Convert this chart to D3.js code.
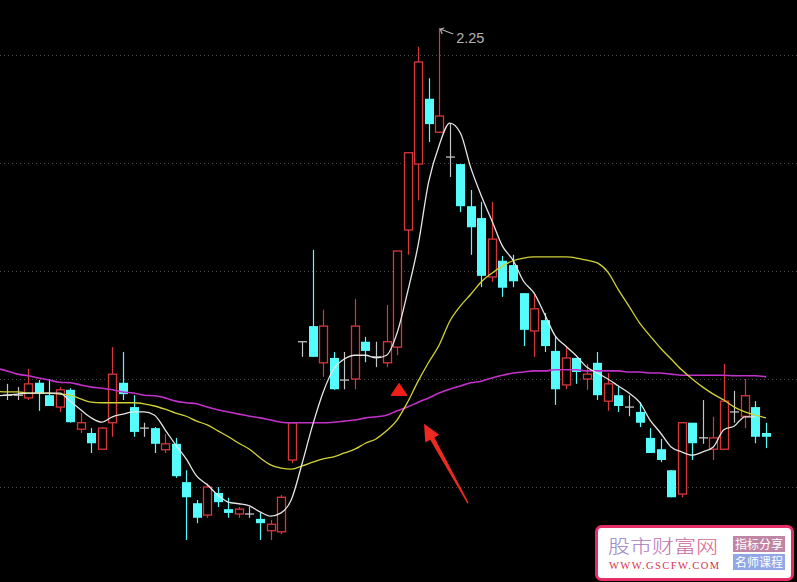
<!DOCTYPE html>
<html><head><meta charset="utf-8">
<script src="https://cdn.jsdelivr.net/npm/d3@7"></script>
<style>html,body{margin:0;padding:0;background:#000;overflow:hidden}</style>
</head><body><svg id="c" width="797" height="582"></svg>
<script>
const opens=[1.570,1.570,1.565,1.593,1.570,1.548,1.580,1.507,1.500,1.470,1.519,1.593,1.548,1.509,1.509,1.469,1.480,1.409,1.370,1.348,1.389,1.359,1.350,1.350,1.341,1.319,1.317,1.450,1.669,1.698,1.630,1.639,1.598,1.600,1.669,1.641,1.630,1.659,1.876,1.998,2.119,2.057,2.011,1.998,1.920,1.898,1.789,1.819,1.811,1.759,1.689,1.709,1.652,1.589,1.639,1.600,1.630,1.559,1.570,1.548,1.539,1.491,1.470,1.431,1.387,1.519,1.491,1.470,1.470,1.539,1.531,1.548,1.500];
const highs=[1.591,1.585,1.619,1.598,1.600,1.585,1.583,1.537,1.509,1.511,1.659,1.650,1.570,1.519,1.511,1.498,1.491,1.431,1.376,1.407,1.400,1.380,1.363,1.363,1.352,1.339,1.385,1.520,1.669,1.839,1.728,1.650,1.650,1.748,1.678,1.669,1.737,1.837,2.019,2.215,2.157,2.250,2.074,1.998,1.950,1.928,1.928,1.828,1.830,1.759,1.757,1.722,1.678,1.661,1.639,1.628,1.650,1.611,1.587,1.570,1.557,1.509,1.489,1.431,1.519,1.519,1.561,1.530,1.628,1.578,1.600,1.559,1.519];
const lows=[1.561,1.561,1.561,1.541,1.550,1.539,1.519,1.500,1.463,1.469,1.493,1.561,1.493,1.493,1.463,1.463,1.417,1.302,1.333,1.343,1.363,1.343,1.343,1.343,1.302,1.302,1.313,1.444,1.641,1.641,1.604,1.580,1.581,1.581,1.631,1.622,1.622,1.644,1.830,1.931,2.039,2.056,1.974,1.909,1.830,1.770,1.780,1.752,1.770,1.661,1.641,1.650,1.552,1.581,1.591,1.580,1.561,1.541,1.539,1.531,1.511,1.463,1.446,1.381,1.381,1.450,1.480,1.450,1.470,1.519,1.509,1.481,1.472];
const closes=[1.570,1.570,1.591,1.574,1.550,1.580,1.520,1.519,1.481,1.509,1.609,1.572,1.502,1.509,1.480,1.480,1.420,1.381,1.343,1.400,1.372,1.352,1.359,1.350,1.333,1.331,1.381,1.519,1.669,1.641,1.698,1.581,1.598,1.698,1.652,1.641,1.669,1.837,2.019,2.187,2.072,2.087,2.011,1.920,1.881,1.791,1.859,1.769,1.781,1.691,1.730,1.661,1.581,1.639,1.613,1.609,1.570,1.591,1.550,1.548,1.519,1.463,1.450,1.381,1.519,1.481,1.491,1.491,1.559,1.539,1.569,1.493,1.493];
// moving averages start one bar before the first visible candle (index -1)
const ma5=[1.569,1.570,1.572,1.574,1.574,1.574,1.574,1.559,1.543,1.528,1.520,1.530,1.535,1.539,1.539,1.533,1.506,1.478,1.452,1.420,1.404,1.385,1.372,1.369,1.365,1.354,1.346,1.352,1.378,1.444,1.515,1.576,1.619,1.637,1.644,1.644,1.639,1.644,1.685,1.761,1.848,1.965,2.033,2.074,2.056,1.991,1.939,1.893,1.846,1.820,1.781,1.759,1.720,1.680,1.661,1.643,1.622,1.611,1.600,1.587,1.574,1.557,1.524,1.500,1.474,1.465,1.459,1.465,1.474,1.506,1.513,1.530,1.530];
const ma20=[1.577,1.576,1.576,1.574,1.574,1.574,1.572,1.570,1.563,1.557,1.556,1.556,1.556,1.556,1.554,1.550,1.544,1.537,1.531,1.522,1.515,1.504,1.493,1.481,1.470,1.454,1.441,1.435,1.433,1.439,1.446,1.452,1.456,1.463,1.470,1.481,1.489,1.504,1.524,1.557,1.596,1.631,1.663,1.707,1.735,1.757,1.780,1.796,1.809,1.819,1.824,1.826,1.826,1.826,1.826,1.824,1.820,1.815,1.798,1.765,1.735,1.704,1.680,1.657,1.637,1.617,1.600,1.585,1.572,1.561,1.548,1.539,1.533,1.528];
const ma60=[1.620,1.615,1.609,1.606,1.602,1.598,1.594,1.593,1.589,1.585,1.583,1.580,1.576,1.574,1.570,1.569,1.565,1.559,1.556,1.554,1.548,1.543,1.539,1.535,1.531,1.528,1.524,1.520,1.519,1.519,1.519,1.519,1.520,1.522,1.524,1.528,1.530,1.533,1.541,1.548,1.557,1.565,1.574,1.581,1.587,1.593,1.596,1.602,1.607,1.611,1.613,1.615,1.615,1.617,1.617,1.617,1.615,1.615,1.615,1.615,1.613,1.613,1.611,1.611,1.609,1.607,1.607,1.607,1.607,1.607,1.606,1.606,1.606,1.604];
const gridPrices=[2.2,2.0,1.8,1.6,1.4];
const peakLabel="2.25";
const tagTitle="股市财富网", tagUrl="WWW.GSCFW.COM", tagA="指标分享", tagB="名师课程";

const svg=d3.select('#c');
svg.append('rect').attr('width',797).attr('height',582).attr('fill','#000');
const n=opens.length;
const x=d3.scaleLinear().domain([0,n-1]).range([7,766]);
const y=d3.scaleLinear().domain([1.4,2.2]).range([487,55]);
const RED='#d8383c', CYAN='#54fcfc', GREY='#c4c4c4';

svg.append('g').selectAll('line').data(gridPrices).join('line')
  .attr('x1',0).attr('x2',797)
  .attr('y1',d=>Math.round(y(d))+0.5).attr('y2',d=>Math.round(y(d))+0.5)
  .attr('stroke','#4a4a4a').attr('stroke-width',1).attr('stroke-dasharray','1,3');

const data=d3.range(n).map(i=>({i,o:opens[i],h:highs[i],l:lows[i],c:closes[i]}));
const col=d=>d.c>d.o?RED:(d.c<d.o?CYAN:GREY);
const cx=d=>Math.round(x(d.i))+0.5;
const g=svg.append('g');
g.selectAll('line.w').data(data).join('line').attr('class','w')
  .attr('x1',cx).attr('x2',cx).attr('y1',d=>y(d.h)).attr('y2',d=>y(d.l))
  .attr('stroke',col).attr('stroke-width',1.2);
g.selectAll('rect.up').data(data.filter(d=>d.c>d.o)).join('rect').attr('class','up')
  .attr('x',d=>cx(d)-4).attr('width',8)
  .attr('y',d=>y(d.c)).attr('height',d=>y(d.o)-y(d.c))
  .attr('fill','#000').attr('stroke',RED).attr('stroke-width',1.3);
g.selectAll('rect.dn').data(data.filter(d=>d.c<d.o)).join('rect').attr('class','dn')
  .attr('x',d=>cx(d)-4.5).attr('width',9)
  .attr('y',d=>y(d.o)).attr('height',d=>Math.max(1,y(d.c)-y(d.o)))
  .attr('fill',CYAN);
g.selectAll('line.dj').data(data.filter(d=>d.c===d.o)).join('line').attr('class','dj')
  .attr('x1',d=>cx(d)-4.5).attr('x2',d=>cx(d)+4.5).attr('y1',d=>y(d.c)).attr('y2',d=>y(d.c))
  .attr('stroke',GREY).attr('stroke-width',1.3);

const line=d3.line().x((d,i)=>x(i-1)).y(d=>y(d)).curve(d3.curveMonotoneX);
svg.append('path').attr('d',line(ma60)).attr('fill','none').attr('stroke','#c032c8').attr('stroke-width',1.6);
svg.append('path').attr('d',line(ma20)).attr('fill','none').attr('stroke','#d2d236').attr('stroke-width',1.3);
svg.append('path').attr('d',line(ma5)).attr('fill','none').attr('stroke','#e6e6e6').attr('stroke-width',1.3);

// peak label
const pk=d3.maxIndex(highs);
const px=x(pk), py=y(highs[pk]);
svg.append('path').attr('d',`M${px+1},${py+1} L${px+14},${py+6} M${px+1},${py+1} l2,5 M${px+1},${py+1} l4,-1`)
  .attr('stroke','#b4b4b4').attr('fill','none').attr('stroke-width',1.2);
svg.append('text').attr('x',px+17).attr('y',py+15).text(peakLabel)
  .attr('fill','#b4b4b4').attr('font-family','Liberation Sans, Arial, sans-serif').attr('font-size',14.5);

// signal triangle
const tx=x(37.19), tyA=y(1.591), tyB=y(1.570);
svg.append('path').attr('d',`M${tx},${tyA} L${tx+7.5},${tyB} L${tx-7.5},${tyB} Z`)
  .attr('fill','#f01e18').attr('stroke','#f01e18').attr('stroke-linejoin','round').attr('stroke-width',1.5);

// red arrow
const tip=[x(39.56),y(1.517)], tail=[x(43.73),y(1.370)];
const dx=tail[0]-tip[0], dy=tail[1]-tip[1], L=Math.hypot(dx,dy);
const u=[dx/L,dy/L], p=[u[1],-u[0]];
const hb=[tip[0]+17*u[0],tip[1]+17*u[1]];
const P=(c,k)=>[c[0]+k*p[0],c[1]+k*p[1]];
const pts=[tip,P(hb,8),P(hb,2.4),P(tail,0.7),P(tail,-0.7),P(hb,-2.4),P(hb,-8)];
svg.append('path').attr('d','M'+pts.map(q=>q.join(',')).join('L')+'Z').attr('fill','#ec2a22');

// watermark tag
const defs=svg.append('defs');
const gr=defs.append('linearGradient').attr('id','tg');
gr.append('stop').attr('offset','0%').attr('stop-color','#8f80d2');
gr.append('stop').attr('offset','100%').attr('stop-color','#e0608a');
const tg=svg.append('g');
tg.append('rect').attr('x',596.5).attr('y',526.5).attr('width',196).attr('height',53).attr('rx',5)
  .attr('fill','#fff').attr('stroke','#e62e66').attr('stroke-width',3);
tg.append('text').attr('x',608).attr('y',553).text(tagTitle).attr('fill','url(#tg)')
  .attr('font-family','Noto Sans CJK SC').attr('font-weight',300).attr('font-size',18)
  .attr('textLength',110).attr('lengthAdjust','spacingAndGlyphs');
tg.append('text').attr('x',609).attr('y',568.5).text(tagUrl).attr('fill','#d8304a')
  .attr('font-family','Liberation Serif, serif').attr('font-size',10.5)
  .attr('textLength',110).attr('lengthAdjust','spacing');
tg.append('rect').attr('x',733).attr('y',536).attr('width',52).attr('height',16).attr('fill','#bf85a5');
tg.append('rect').attr('x',733).attr('y',554).attr('width',52).attr('height',16).attr('fill','#90a6e6');
tg.append('text').attr('x',759).attr('y',548.5).attr('text-anchor','middle').text(tagA)
  .attr('fill','#fff').attr('font-family','Noto Sans CJK SC').attr('font-size',12);
tg.append('text').attr('x',759).attr('y',566.5).attr('text-anchor','middle').text(tagB)
  .attr('fill','#fff').attr('font-family','Noto Sans CJK SC').attr('font-size',12);
</script></body></html>
